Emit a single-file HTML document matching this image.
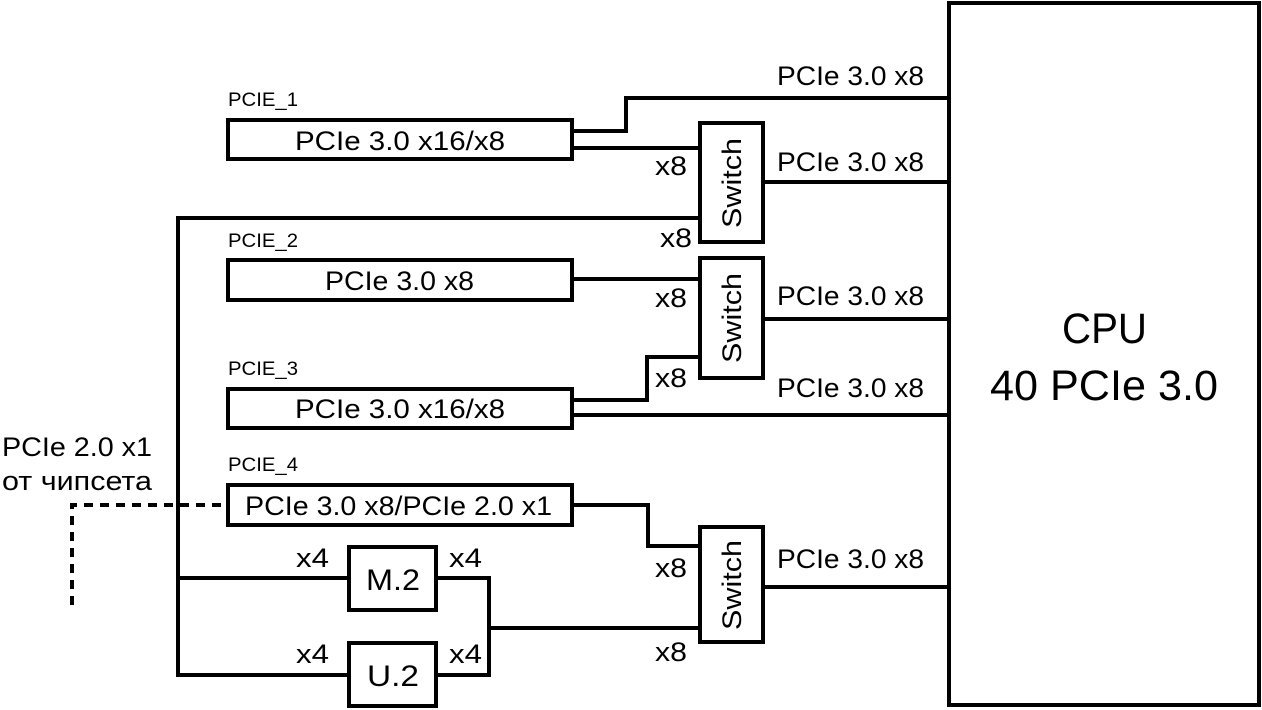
<!DOCTYPE html>
<html><head><meta charset="utf-8"><style>
html,body{margin:0;padding:0;background:#fff;}
svg{display:block;}
text{font-family:"Liberation Sans","DejaVu Sans",sans-serif;fill:#000;}
</style></head><body>
<svg width="1262" height="710" viewBox="0 0 1262 710" xmlns="http://www.w3.org/2000/svg">
<g fill="none" stroke="#000" stroke-width="4">
<rect x="949" y="3" width="310" height="702"/>
<rect x="228" y="120" width="344" height="39"/>
<rect x="228" y="260" width="344" height="40"/>
<rect x="228" y="389" width="344" height="39"/>
<rect x="228" y="485" width="344" height="40"/>
<rect x="700" y="123" width="63" height="119"/>
<rect x="700" y="258" width="63" height="120"/>
<rect x="700" y="527" width="63" height="115"/>
<rect x="349" y="547" width="87" height="63"/>
<rect x="349" y="643" width="87" height="63"/>
<polyline points="572,131 626,131 626,98 949,98"/>
<line x1="572" y1="148" x2="700" y2="148"/>
<line x1="763" y1="182" x2="949" y2="182"/>
<line x1="178" y1="218" x2="700" y2="218"/>
<polyline points="178,216 178,675 349,675"/>
<line x1="178" y1="578" x2="349" y2="578"/>
<line x1="572" y1="279" x2="700" y2="279"/>
<line x1="763" y1="319" x2="949" y2="319"/>
<polyline points="572,400 647,400 647,357 700,357"/>
<line x1="572" y1="415" x2="949" y2="415"/>
<polyline points="572,505 648,505 648,546 700,546"/>
<line x1="763" y1="587" x2="949" y2="587"/>
<polyline points="436,578 489,578 489,675 436,675"/>
<line x1="489" y1="628" x2="700" y2="628"/>
</g>
<polyline points="72,605 72,505 228,505" fill="none" stroke="#000" stroke-width="4" stroke-dasharray="9,7"/>
<g font-size="27">
<text x="295" y="150" textLength="210" lengthAdjust="spacingAndGlyphs">PCIe 3.0 x16/x8</text>
<text x="325" y="290" textLength="149" lengthAdjust="spacingAndGlyphs">PCIe 3.0 x8</text>
<text x="295" y="418" textLength="210" lengthAdjust="spacingAndGlyphs">PCIe 3.0 x16/x8</text>
<text x="245" y="515" textLength="307" lengthAdjust="spacingAndGlyphs">PCIe 3.0 x8/PCIe 2.0 x1</text>
<text x="777" y="85" textLength="147" lengthAdjust="spacingAndGlyphs">PCIe 3.0 x8</text>
<text x="777" y="171" textLength="147" lengthAdjust="spacingAndGlyphs">PCIe 3.0 x8</text>
<text x="777" y="305" textLength="147" lengthAdjust="spacingAndGlyphs">PCIe 3.0 x8</text>
<text x="777" y="397" textLength="147" lengthAdjust="spacingAndGlyphs">PCIe 3.0 x8</text>
<text x="777" y="568" textLength="147" lengthAdjust="spacingAndGlyphs">PCIe 3.0 x8</text>
<text x="655" y="175" textLength="32" lengthAdjust="spacingAndGlyphs">x8</text>
<text x="660" y="247" textLength="32" lengthAdjust="spacingAndGlyphs">x8</text>
<text x="655" y="307" textLength="32" lengthAdjust="spacingAndGlyphs">x8</text>
<text x="655" y="387" textLength="32" lengthAdjust="spacingAndGlyphs">x8</text>
<text x="655" y="577" textLength="32" lengthAdjust="spacingAndGlyphs">x8</text>
<text x="655" y="661" textLength="32" lengthAdjust="spacingAndGlyphs">x8</text>
<text x="296" y="567" textLength="33" lengthAdjust="spacingAndGlyphs">x4</text>
<text x="449" y="567" textLength="33" lengthAdjust="spacingAndGlyphs">x4</text>
<text x="296" y="663" textLength="33" lengthAdjust="spacingAndGlyphs">x4</text>
<text x="449" y="663" textLength="33" lengthAdjust="spacingAndGlyphs">x4</text>
<text x="2" y="456" textLength="150" lengthAdjust="spacingAndGlyphs">PCIe 2.0 x1</text>
<text x="2" y="490" textLength="150" lengthAdjust="spacingAndGlyphs">от чипсета</text>
<text transform="translate(741,228) rotate(-90)" textLength="90" lengthAdjust="spacingAndGlyphs">Switch</text>
<text transform="translate(741,363) rotate(-90)" textLength="90" lengthAdjust="spacingAndGlyphs">Switch</text>
<text transform="translate(741,630) rotate(-90)" textLength="90" lengthAdjust="spacingAndGlyphs">Switch</text>
</g>
<g font-size="30">
<text x="366" y="590" textLength="54" lengthAdjust="spacingAndGlyphs">M.2</text>
<text x="367" y="686" textLength="52" lengthAdjust="spacingAndGlyphs">U.2</text>
</g>
<g font-size="19">
<text x="228" y="106" textLength="70" lengthAdjust="spacingAndGlyphs">PCIE_1</text>
<text x="228" y="247" textLength="70" lengthAdjust="spacingAndGlyphs">PCIE_2</text>
<text x="228" y="375" textLength="70" lengthAdjust="spacingAndGlyphs">PCIE_3</text>
<text x="228" y="471" textLength="70" lengthAdjust="spacingAndGlyphs">PCIE_4</text>
</g>
<g font-size="43">
<text x="1062" y="343" textLength="85" lengthAdjust="spacingAndGlyphs">CPU</text>
<text x="990" y="400" textLength="228" lengthAdjust="spacingAndGlyphs">40 PCIe 3.0</text>
</g>
</svg>
</body></html>
